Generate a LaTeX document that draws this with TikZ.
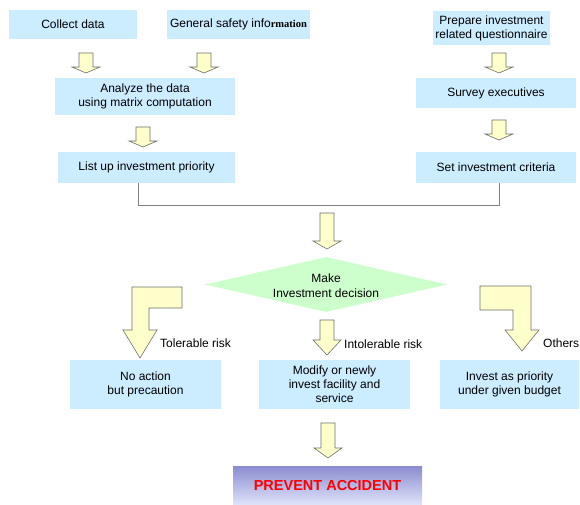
\documentclass[tikz,border=0pt]{standalone}
\usepackage{fontspec}
\setmainfont{Liberation Sans}
\newfontfamily\timesx{Liberation Serif}
\usetikzlibrary{shapes.geometric}
\definecolor{boxblue}{HTML}{CCECFF}
\definecolor{arrowfill}{HTML}{FFFFCC}
\definecolor{arrowline}{HTML}{6F6F6F}
\definecolor{diagreen}{HTML}{CCFFCC}
\definecolor{bracketgray}{HTML}{808080}
\definecolor{prevtop}{HTML}{8A8CCF}
\definecolor{prevbot}{HTML}{E0E4FA}
\newcommand\bx[6]{\node[box, minimum width=#4pt, minimum height=#5pt] (#1) at (#2,#3) {#6};}
\newcommand\barr[4]{\draw[blk] ({#1-7},#2) -- ({#1+7},#2) -- ({#1+7},#3) -- ({#1+14},#3) -- (#1,#4) -- ({#1-14},#3) -- ({#1-7},#3) -- cycle;}
\begin{document}
\begin{tikzpicture}[x=1pt,y=-1pt,
  box/.style={fill=boxblue, draw=none, align=center, inner sep=0pt, font=\fontsize{12}{14}\selectfont},
  blk/.style={fill=arrowfill, draw=arrowline, line width=0.6pt, line join=miter},
  lbl/.style={anchor=west, inner sep=0pt, font=\fontsize{12}{14}\selectfont}]
\useasboundingbox (0,0) rectangle (580,505);
\fill[white] (0,0) rectangle (580,505);
% boxes
\bx{collect}{73}{24.5}{128}{29}{Collect data}
\bx{general}{238.5}{24.5}{143}{29}{General safety info{\timesx\bfseries\fontsize{10.5}{12}\selectfont rmation}}
\bx{prepare}{491.5}{28}{117}{34}{Prepare investment\\related questionnaire}
\bx{analyze}{145}{96.5}{180}{37}{Analyze the data\\using matrix computation}
\bx{survey}{496}{93}{160}{30}{Survey executives}
\bx{listup}{146.5}{167.5}{177}{31}{List up investment priority}
\bx{crit}{496}{167.5}{160}{31}{Set investment criteria}
\bx{noact}{145.5}{384.5}{151}{49}{No action\\but precaution}
\bx{modify}{334.5}{384.5}{151}{49}{Modify or newly\\invest facility and\\service}
\bx{invest}{509.5}{384.5}{139}{49}{Invest as priority\\under given budget}
\node[minimum width=189pt, minimum height=39pt, inner sep=0pt, top color=prevtop, bottom color=prevbot,
  text=red, font=\bfseries\fontsize{14.5}{16}\selectfont] (prev) at (327.5,485.5) {PREVENT ACCIDENT};
% decision diamond
\node[diamond, fill=diagreen, draw=none, aspect=4.4, minimum width=242pt, minimum height=55pt, inner sep=0pt] (dec) at (326,284.5) {};
\node[align=center, inner sep=0pt, font=\fontsize{12}{15}\selectfont] (dect) at (326,286) {Make\\Investment decision};
% bracket
\coordinate (bL) at (138,205);
\coordinate (bR) at (499,205);
\draw[bracketgray, line width=0.9pt] (listup.south -| bL) -- (bL) -- (bR) -- (crit.south -| bR);
% straight block arrows
\barr{86}{53}{67}{73}
\barr{204}{53}{67}{73}
\barr{143}{127}{141}{147}
\barr{499}{53}{67}{73}
\barr{499}{120}{134}{140}
\barr{327}{213}{241}{249}
\barr{327}{320}{340}{355}
\barr{328}{423}{448}{458}
% bent block arrows
\draw[blk] (182,287) -- (132,287) -- (132,330) -- (123,330) -- (140,358) -- (157,330) -- (149,330) -- (149,308) -- (182,308) -- cycle;
\draw[blk] (480,286) -- (531,286) -- (531,330) -- (539,330) -- (522,351) -- (505,330) -- (513,330) -- (513,310) -- (480,310) -- cycle;
% labels
\node[lbl] (ltol) at (160,343) {Tolerable risk};
\node[lbl] (lint) at (344,344) {Intolerable risk};
\node[lbl] (loth) at (543,343) {Others};
\end{tikzpicture}
\end{document}
